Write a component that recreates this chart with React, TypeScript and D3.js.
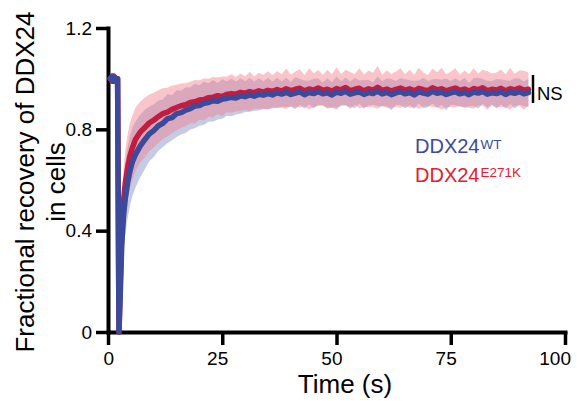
import { useEffect, useRef } from 'react';

import * as d3 from 'd3';


// ==========================================
// DATA
// ==========================================
const times = [
    0.5, 0.9, 1.3, 1.7, 2.1, 2.4, 2.7, 3.0, 3.4, 3.8, 4.3, 4.8, 5.3,
    6, 7, 8, 9, 10, 11, 12, 13, 14, 15,
    16, 17, 18, 19, 20, 21, 22, 23, 24, 25,
    26, 27, 28, 29, 30, 31, 32, 33, 34, 35,
    36, 37, 38, 39, 40, 41, 42, 43, 44, 45,
    46, 47, 48, 49, 50, 51, 52, 53, 54, 55,
    56, 57, 58, 59, 60, 61, 62, 63, 64, 65,
    66, 67, 68, 69, 70, 71, 72, 73, 74, 75,
    76, 77, 78, 79, 80, 81, 82, 83, 84, 85,
    86, 87, 88, 89, 90, 91, 92,
];

// DDX24 WT, mean fractional recovery
const wtMean = [
    1.0, 1.01, 0.99, 1.0, 1.0, 0.0, 0.16, 0.34, 0.46, 0.53, 0.59, 0.635, 0.67,
    0.7, 0.733, 0.758, 0.781, 0.795, 0.814, 0.824, 0.842, 0.846, 0.862,
    0.866, 0.876, 0.882, 0.892, 0.894, 0.903, 0.906, 0.913, 0.911, 0.92,
    0.922, 0.926, 0.924, 0.932, 0.929, 0.936, 0.931, 0.938, 0.935, 0.941,
    0.936, 0.944, 0.939, 0.946, 0.938, 0.943, 0.948, 0.937, 0.945, 0.941,
    0.949, 0.94, 0.944, 0.936, 0.947, 0.942, 0.95, 0.939, 0.944, 0.947,
    0.938, 0.945, 0.941, 0.951, 0.94, 0.946, 0.937, 0.944, 0.949, 0.94,
    0.945, 0.936, 0.948, 0.943, 0.939, 0.95, 0.942, 0.946, 0.938, 0.944,
    0.948, 0.94, 0.945, 0.937, 0.947, 0.943, 0.95, 0.939, 0.944, 0.941,
    0.948, 0.938, 0.946, 0.942, 0.949, 0.94, 0.945,
];

const wtSd = [
    0.012, 0.015, 0.012, 0.014, 0.012, 0.0, 0.07, 0.11, 0.13, 0.14, 0.14, 0.138, 0.135,
    0.13, 0.124, 0.118, 0.108, 0.104, 0.1, 0.094, 0.097, 0.089, 0.092,
    0.086, 0.09, 0.083, 0.088, 0.08, 0.085, 0.076, 0.082, 0.072, 0.078,
    0.068, 0.074, 0.065, 0.07, 0.061, 0.067, 0.058, 0.064, 0.055, 0.062,
    0.053, 0.06, 0.05, 0.058, 0.049, 0.063, 0.051, 0.056, 0.047, 0.059,
    0.052, 0.045, 0.058, 0.05, 0.062, 0.048, 0.055, 0.05, 0.06, 0.046,
    0.057, 0.051, 0.044, 0.059, 0.05, 0.055, 0.062, 0.047, 0.053, 0.058,
    0.049, 0.056, 0.045, 0.06, 0.052, 0.048, 0.057, 0.05, 0.063, 0.047,
    0.054, 0.05, 0.059, 0.046, 0.055, 0.061, 0.049, 0.053, 0.047, 0.058,
    0.05, 0.056, 0.046, 0.06, 0.052, 0.049, 0.055,
];

// DDX24 E271K, mean fractional recovery
const mutMean = [
    1.0, 0.99, 1.01, 1.0, 1.0, 0.0, 0.2, 0.39, 0.52, 0.59, 0.65, 0.695, 0.725,
    0.76, 0.788, 0.806, 0.825, 0.836, 0.85, 0.862, 0.868, 0.879, 0.886,
    0.893, 0.897, 0.906, 0.909, 0.916, 0.918, 0.925, 0.927, 0.933, 0.93,
    0.938, 0.941, 0.939, 0.946, 0.943, 0.949, 0.945, 0.952, 0.947, 0.954,
    0.95, 0.957, 0.951, 0.96, 0.953, 0.958, 0.962, 0.952, 0.959, 0.955,
    0.963, 0.954, 0.958, 0.951, 0.961, 0.956, 0.965, 0.953, 0.958, 0.962,
    0.952, 0.96, 0.955, 0.966, 0.954, 0.959, 0.951, 0.958, 0.963, 0.955,
    0.96, 0.952, 0.962, 0.957, 0.953, 0.964, 0.956, 0.96, 0.952, 0.958,
    0.963, 0.954, 0.959, 0.951, 0.961, 0.957, 0.964, 0.953, 0.958, 0.955,
    0.962, 0.952, 0.96, 0.956, 0.963, 0.954, 0.958,
];

const mutSd = [
    0.012, 0.014, 0.013, 0.012, 0.014, 0.0, 0.07, 0.11, 0.125, 0.13, 0.13, 0.13, 0.128,
    0.125, 0.12, 0.118, 0.112, 0.108, 0.104, 0.1, 0.096, 0.094, 0.09,
    0.088, 0.085, 0.082, 0.086, 0.078, 0.083, 0.075, 0.08, 0.072, 0.079,
    0.07, 0.076, 0.068, 0.074, 0.066, 0.078, 0.064, 0.071, 0.067, 0.075,
    0.063, 0.072, 0.066, 0.08, 0.062, 0.07, 0.075, 0.061, 0.082, 0.066,
    0.071, 0.06, 0.077, 0.065, 0.084, 0.062, 0.07, 0.073, 0.06, 0.079,
    0.064, 0.072, 0.068, 0.085, 0.061, 0.074, 0.066, 0.07, 0.078, 0.062,
    0.075, 0.063, 0.081, 0.067, 0.06, 0.076, 0.069, 0.083, 0.064, 0.07,
    0.078, 0.061, 0.073, 0.066, 0.08, 0.063, 0.071, 0.076, 0.062, 0.069,
    0.074, 0.065, 0.082, 0.063, 0.07, 0.077, 0.066,
];

const xTicks = [0, 25, 50, 75, 100];

const yTicks = [0, 0.4, 0.8, 1.2];

const yTickLabels = ['0', '0.4', '0.8', '1.2'];


const FONT = '"Liberation Sans", Arial, Helvetica, sans-serif';

const BLUE = '#3b4a9a';
const RED = '#c41c3f';


const App = () => {

    const svgRef = useRef<SVGSVGElement>(null);


    useEffect(() => {

        const svg = d3.select(svgRef.current);

        // Clear old SVG
        svg.selectAll('*').remove();


        // ==========================================
        // SCALES
        // ==========================================
        const x = d3.scaleLinear().domain([0, 100]).range([108, 565]);

        const y = d3.scaleLinear().domain([0, 1.2]).range([332, 28]);


        const wt = times.map((t, i) => ({ t, m: wtMean[i], sd: wtSd[i] }));

        const mut = times.map((t, i) => ({ t, m: mutMean[i], sd: mutSd[i] }));


        // ==========================================
        // AXES
        // ==========================================
        const xAxis = d3
            .axisBottom(x)
            .tickValues(xTicks)
            .tickSize(13)
            .tickSizeOuter(0)
            .tickPadding(6.5)
            .tickFormat(d3.format('d'));

        const yAxis = d3
            .axisLeft(y)
            .tickValues(yTicks)
            .tickSize(12)
            .tickSizeOuter(0)
            .tickPadding(4)
            .tickFormat((d, i) => yTickLabels[i]);


        const gx = svg.append('g')
            .attr('transform', `translate(0, ${y(0)})`)
            .call(xAxis);

        gx.selectAll('text')
            .attr('text-anchor', 'end')
            .attr('dx', 5.5);

        const gy = svg.append('g')
            .attr('transform', `translate(${x(0)}, 0)`)
            .call(yAxis);


        [gx, gy].forEach((g) => {
            g.attr('font-family', FONT).attr('font-size', 19);
            g.select('.domain')
                .attr('stroke', '#000')
                .attr('stroke-width', 4)
                .attr('stroke-linecap', 'square');
            g.selectAll('.tick line')
                .attr('stroke', '#000')
                .attr('stroke-width', 3.5);
            g.selectAll('.tick text').attr('fill', '#000');
        });


        // ==========================================
        // BANDS (mean +/- SD)
        // ==========================================
        const band = d3
            .area<any>()
            .x((d) => x(d.t))
            .y0((d) => y(d.m - d.sd))
            .y1((d) => y(d.m + d.sd));

        svg.append('path')
            .datum(wt)
            .attr('d', band)
            .attr('fill', '#8d97cb')
            .attr('fill-opacity', 0.5);

        svg.append('path')
            .datum(mut)
            .attr('d', band)
            .attr('fill', '#f27f8a')
            .attr('fill-opacity', 0.45);


        // ==========================================
        // MEAN LINES
        // ==========================================
        const line = d3
            .line<any>()
            .x((d) => x(d.t))
            .y((d) => y(d.m));

        svg.append('path')
            .datum(mut)
            .attr('d', line)
            .attr('fill', 'none')
            .attr('stroke', RED)
            .attr('stroke-width', 5.5)
            .attr('stroke-linejoin', 'round')
            .attr('stroke-linecap', 'round');

        svg.append('path')
            .datum(wt)
            .attr('d', line)
            .attr('fill', 'none')
            .attr('stroke', BLUE)
            .attr('stroke-width', 5.5)
            .attr('stroke-linejoin', 'round')
            .attr('stroke-linecap', 'round');


        // ==========================================
        // NS BAR
        // ==========================================
        svg.append('line')
            .attr('x1', 533)
            .attr('x2', 533)
            .attr('y1', 75)
            .attr('y2', 103)
            .attr('stroke', '#000')
            .attr('stroke-width', 2.5);

        svg.append('text')
            .attr('x', 537)
            .attr('y', 99.5)
            .attr('font-family', FONT)
            .attr('font-size', 18.5)
            .text('NS');


        // ==========================================
        // LEGEND
        // ==========================================
        const legend = [
            { name: 'DDX24', sup: 'WT', color: '#3c4b9c', y: 153.3 },
            { name: 'DDX24', sup: 'E271K', color: '#e3202c', y: 181.7 },
        ];

        legend.forEach((l) => {
            const t = svg.append('text')
                .attr('x', 415)
                .attr('y', l.y)
                .attr('font-family', FONT)
                .attr('font-size', 20)
                .attr('fill', l.color);
            t.append('tspan').text(l.name);
            t.append('tspan')
                .attr('dx', 1)
                .attr('dy', -4.3)
                .attr('font-size', 13.5)
                .text(l.sup);
        });


        // ==========================================
        // AXIS TITLES
        // ==========================================
        svg.append('text')
            .attr('x', 345)
            .attr('y', 392.5)
            .attr('text-anchor', 'middle')
            .attr('font-family', FONT)
            .attr('font-size', 26)
            .text('Time (s)');

        svg.append('text')
            .attr('transform', 'translate(33.5, 182) rotate(-90)')
            .attr('text-anchor', 'middle')
            .attr('font-family', FONT)
            .attr('font-size', 26)
            .text('Fractional recovery of DDX24');

        svg.append('text')
            .attr('transform', 'translate(65, 182) rotate(-90)')
            .attr('text-anchor', 'middle')
            .attr('font-family', FONT)
            .attr('font-size', 26)
            .text('in cells');

    }, []);


    return (
        <div style={{ position: 'absolute', left: 0, top: 0, background: '#fff' }}>
            <svg ref={svgRef} width={577} height={401}></svg>
        </div>
    );
};


export default App;
